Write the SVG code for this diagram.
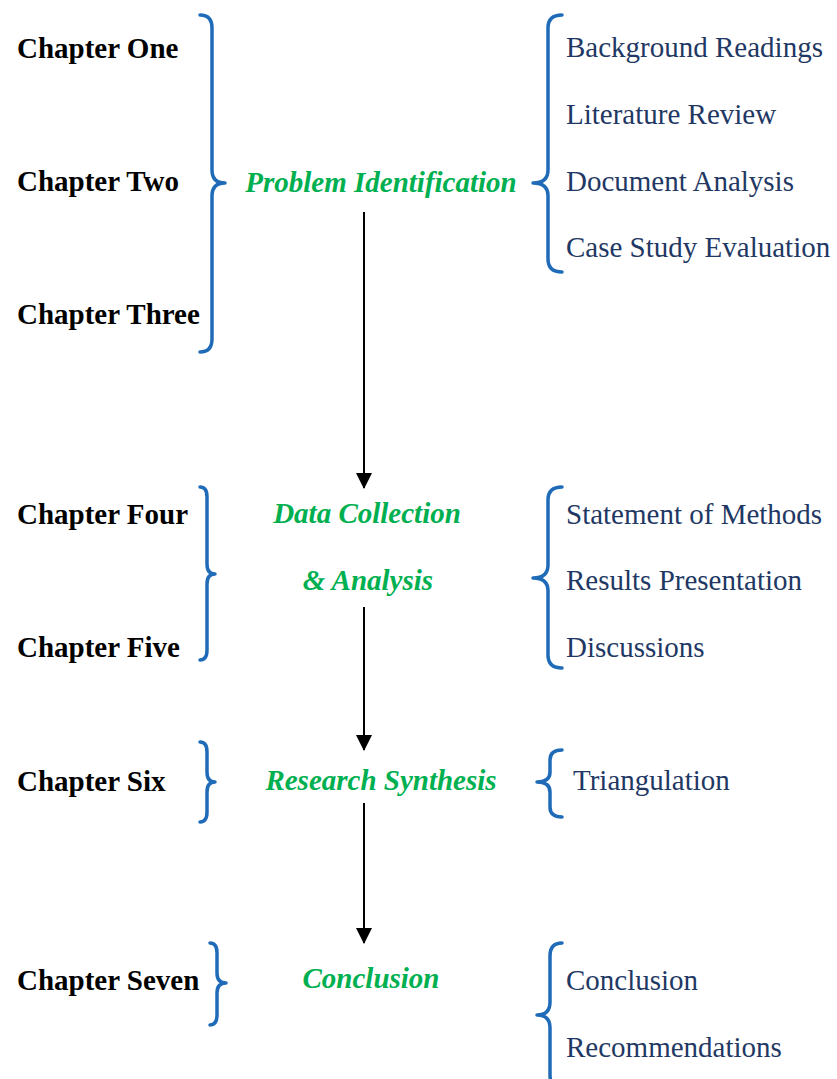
<svg xmlns="http://www.w3.org/2000/svg" width="837" height="1079" viewBox="0 0 837 1079">
  <style>
    .chap { font-family: "Liberation Serif", "Times New Roman", serif; font-weight: bold; font-size: 29px; fill: #000000; }
    .stage { font-family: "Liberation Serif", "Times New Roman", serif; font-weight: bold; font-style: italic; font-size: 29px; fill: #00b050; }
    .item { font-family: "Liberation Serif", "Times New Roman", serif; font-size: 29px; fill: #1f3864; }
    .brace { fill: none; stroke: #1f6bb8; stroke-width: 3.5; stroke-linecap: round; stroke-linejoin: round; }
    .flow { stroke: #000000; stroke-width: 2; fill: none; }
  </style>
  <defs>
    <marker id="head" markerWidth="8" markerHeight="8" refX="7.5" refY="4" orient="auto" markerUnits="strokeWidth">
      <path d="M0,0 L8,4 L0,8 Z" fill="#000000"/>
    </marker>
  </defs>

  <!-- Chapter labels -->
  <g id="chapters">
    <text class="chap" x="17" y="58">Chapter One</text>
    <text class="chap" x="17" y="191">Chapter Two</text>
    <text class="chap" x="17" y="324">Chapter Three</text>
    <text class="chap" x="17" y="524">Chapter Four</text>
    <text class="chap" x="17" y="657">Chapter Five</text>
    <text class="chap" x="17" y="791">Chapter Six</text>
    <text class="chap" x="17" y="990">Chapter Seven</text>
  </g>

  <!-- Stage 1: Problem Identification -->
  <g id="problem-identification">
    <path class="brace" d="M200,15 Q212,15 212,28 L212,170 Q212,183 225,183 Q212,183 212,196 L212,339 Q212,352 200,352"/>
    <text class="stage" x="381" y="192" text-anchor="middle">Problem Identification</text>
    <path class="brace" d="M562,15 Q548,15 548,28 L548,170 Q548,183 533,183 Q548,183 548,196 L548,259 Q548,272 562,272"/>
    <text class="item" x="566" y="57">Background Readings</text>
    <text class="item" x="566" y="124">Literature Review</text>
    <text class="item" x="566" y="191">Document Analysis</text>
    <text class="item" x="566" y="257">Case Study Evaluation</text>
  </g>

  <!-- Stage 2: Data Collection & Analysis -->
  <g id="data-collection">
    <path class="brace" d="M200,487 Q207,487 207,497 L207,564 Q207,574 215,574 Q207,574 207,584 L207,650 Q207,660 200,660"/>
    <text class="stage" x="367" y="523" text-anchor="middle">Data Collection</text>
    <text class="stage" x="368" y="590" text-anchor="middle">&amp; Analysis</text>
    <path class="brace" d="M562,487 Q548,487 548,500 L548,565 Q548,578 533,578 Q548,578 548,591 L548,655 Q548,668 562,668"/>
    <text class="item" x="566" y="524">Statement of Methods</text>
    <text class="item" x="566" y="590">Results Presentation</text>
    <text class="item" x="566" y="657">Discussions</text>
  </g>

  <!-- Stage 3: Research Synthesis -->
  <g id="research-synthesis">
    <path class="brace" d="M200,742 Q207,742 207,752 L207,772 Q207,782 215,782 Q207,782 207,792 L207,812 Q207,822 200,822"/>
    <text class="stage" x="381" y="790" text-anchor="middle">Research Synthesis</text>
    <path class="brace" d="M562,750 Q550,750 550,760 L550,772 Q550,782 537,782 Q550,782 550,792 L550,807 Q550,817 562,817"/>
    <text class="item" x="573" y="790">Triangulation</text>
  </g>

  <!-- Stage 4: Conclusion -->
  <g id="conclusion">
    <path class="brace" d="M210,943 Q217,943 217,953 L217,973 Q217,983 226,983 Q217,983 217,993 L217,1015 Q217,1025 210,1025"/>
    <text class="stage" x="371" y="988" text-anchor="middle">Conclusion</text>
    <path class="brace" d="M562,943 Q550,943 550,956 L550,1002 Q550,1015 537,1015 Q550,1015 550,1028 L550,1075 Q550,1088 562,1088"/>
    <text class="item" x="566" y="990">Conclusion</text>
    <text class="item" x="566" y="1057">Recommendations</text>
  </g>

  <!-- Flow arrows between stages -->
  <g id="connectors">
    <line class="flow" x1="364" y1="212" x2="364" y2="488" marker-end="url(#head)"/>
    <line class="flow" x1="364" y1="607" x2="364" y2="750" marker-end="url(#head)"/>
    <line class="flow" x1="364" y1="803" x2="364" y2="943" marker-end="url(#head)"/>
  </g>
</svg>
